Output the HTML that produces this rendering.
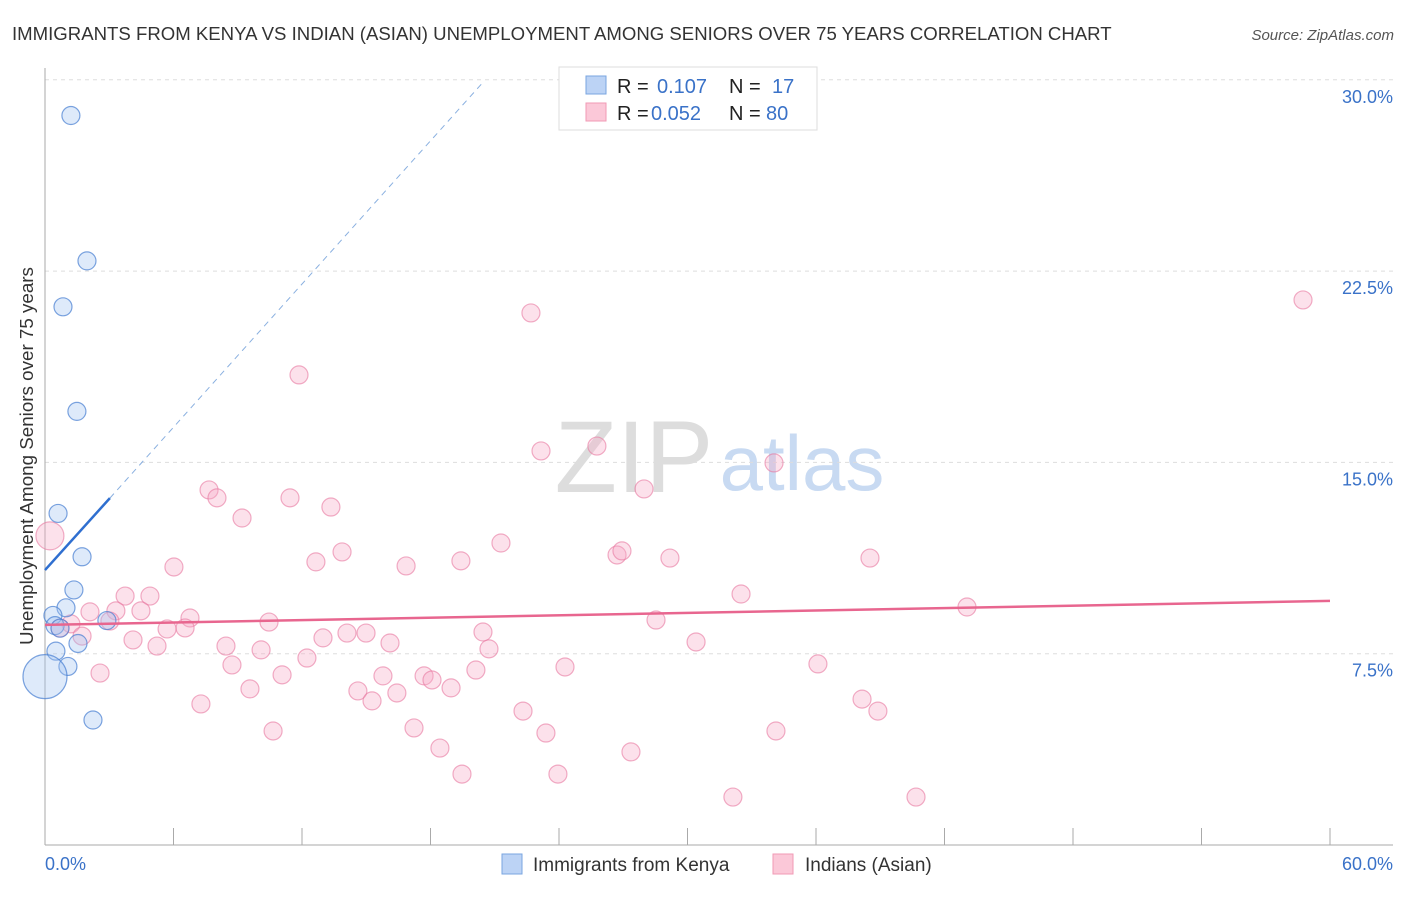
<!DOCTYPE html>
<html><head><meta charset="utf-8"><style>
body{margin:0;background:#fff;font-family:"Liberation Sans",sans-serif}
svg text{font-family:"Liberation Sans",sans-serif}
</style></head><body>
<svg width="1406" height="892" viewBox="0 0 1406 892">
<text x="12" y="40" font-size="18.6" fill="#333">IMMIGRANTS FROM KENYA VS INDIAN (ASIAN) UNEMPLOYMENT AMONG SENIORS OVER 75 YEARS CORRELATION CHART</text>
<text x="1394" y="40" font-size="15" fill="#555" font-style="italic" text-anchor="end">Source: ZipAtlas.com</text>
<g>
<text x="634" y="492" font-size="102" fill="#ddd" font-family="Liberation Serif" text-anchor="middle">ZIP</text>
<text x="802" y="490" font-size="78" fill="#c8daf2" text-anchor="middle">atlas</text>
</g>
<g id="grid"></g>
<g id="axes"></g>
<g id="marks"></g>
<text transform="translate(33,456) rotate(-90)" font-size="18.8" fill="#333" text-anchor="middle">Unemployment Among Seniors over 75 years</text>
<g>
<rect x="559" y="67" width="258" height="63" fill="#fff" stroke="#ddd"/>
<rect x="586" y="76" width="20" height="18" fill="#bcd3f5" stroke="#7aa6e0"/>
<rect x="586" y="103" width="20" height="18" fill="#fbc8d8" stroke="#f09ab5"/>
<text x="617" y="93" font-size="20" fill="#222">R = </text><text x="657" y="93" font-size="20" fill="#3a72c8">0.107</text>
<text x="729" y="93" font-size="20" fill="#222">N = </text><text x="772" y="93" font-size="20" fill="#3a72c8">17</text>
<text x="617" y="120" font-size="20" fill="#222">R = </text><text x="651" y="120" font-size="20" fill="#3a72c8">0.052</text>
<text x="729" y="120" font-size="20" fill="#222">N = </text><text x="766" y="120" font-size="20" fill="#3a72c8">80</text>
</g>
<g>
<rect x="502" y="854" width="20" height="20" fill="#bcd3f5" stroke="#7aa6e0"/>
<text x="533" y="871" font-size="19" fill="#333">Immigrants from Kenya</text>
<rect x="773" y="854" width="20" height="20" fill="#fbc8d8" stroke="#f09ab5"/>
<text x="805" y="871" font-size="19" fill="#333">Indians (Asian)</text>
</g>
</svg>
<script>
const xTicks=[0,6,12,18,24,30,36,42,48,54,60];
const yTicks=[7.5,15,22.5,30];
const yTickLabels=["7.5%","15.0%","22.5%","30.0%"];
const kenyaX=[1.21,1.96,0.84,1.49,0.61,1.73,1.35,0.98,0.37,0.47,0.70,2.89,1.54,0.51,1.07,0.0,2.24];
const kenyaY=[28.6,22.9,21.1,17.0,13.0,11.3,10.0,9.3,9.0,8.6,8.5,8.8,7.9,7.6,7.0,6.6,4.9];
const kenyaR=[9,9,9,9,9,9,9,9,9,9,9,9,9,9,9,22,9];
const indX=[0.23,58.74,22.69,11.86,23.16,25.77,34.04,7.66,27.97,8.03,11.44,13.35,9.20,21.29,13.87,26.71,26.94,29.18,38.52,19.42,12.65,16.86,6.02,3.74,4.90,32.50,2.10,3.31,4.48,6.77,10.46,28.53,43.05,3.03,1.21,0.70,5.70,6.54,1.73,4.11,5.23,8.45,12.98,14.10,14.99,16.11,20.45,30.40,10.09,20.73,12.23,8.73,20.12,24.28,36.09,2.57,11.07,15.78,17.70,18.07,9.57,14.61,18.96,15.27,16.43,7.28,38.15,38.89,22.32,10.65,17.23,34.13,23.39,18.44,27.36,19.47,23.95,32.12,40.67];
const indY=[12.12,21.37,20.86,18.43,15.45,15.64,14.98,13.92,13.96,13.61,13.61,13.25,12.82,11.84,11.49,11.37,11.53,11.25,11.25,11.14,11.10,10.94,10.90,9.76,9.76,9.84,9.14,9.18,9.18,8.90,8.74,8.82,9.33,8.78,8.67,8.51,8.47,8.51,8.19,8.04,7.80,7.80,8.12,8.31,8.31,7.92,8.35,7.96,7.65,7.69,7.33,7.06,6.86,6.98,7.10,6.74,6.67,6.63,6.63,6.47,6.12,6.04,6.16,5.65,5.96,5.53,5.72,5.25,5.25,4.47,4.59,4.47,4.39,3.80,3.65,2.78,2.78,1.88,1.88];
const kenyaTrend=[[0,10.78],[3.03,13.6]];
const kenyaDash=[[3.03,13.6],[20.45,29.9]];
const indTrend=[[0,8.63],[60,9.57]];
const NS="http://www.w3.org/2000/svg";
const sx=v=>45+v/60*1285, sy=v=>845-v/7.5*191.3;
function mk(p,t,a){const e=document.createElementNS(NS,t);for(const k in a)e.setAttribute(k,a[k]);p.appendChild(e);return e;}
const grid=document.getElementById('grid'),axes=document.getElementById('axes'),marks=document.getElementById('marks');
yTicks.forEach((v,i)=>{
 const l=mk(grid,'line',{x1:45,x2:1393,y1:sy(v),y2:sy(v),stroke:'#ddd','stroke-dasharray':'4,4'});
 
 
 const t=mk(axes,'text',{x:1393,y:sy(v)+23,'font-size':18,fill:'#3a72c8','text-anchor':'end'});t.textContent=yTickLabels[i];
 
 
});
const ya=mk(axes,'line',{x1:45,x2:45,y1:68,y2:845,stroke:'#aaa'});


const xa=mk(axes,'line',{x1:45,x2:1393,y1:845,y2:845,stroke:'#aaa'});


xTicks.forEach(v=>{const t=mk(axes,'line',{x1:sx(v),x2:sx(v),y1:828,y2:845,stroke:'#aaa'});
 
 });
const x0=mk(axes,'text',{x:45,y:870,'font-size':18,fill:'#3a72c8'});x0.textContent=xTicks[0].toFixed(1)+'%';


const x1=mk(axes,'text',{x:1393,y:870,'font-size':18,fill:'#3a72c8','text-anchor':'end'});x1.textContent=xTicks[xTicks.length-1].toFixed(1)+'%';


indX.forEach((v,i)=>{const c=mk(marks,'circle',{cx:sx(v),cy:sy(indY[i]),r:i===0?14:9,fill:'rgba(246,170,198,0.35)',stroke:'rgba(232,120,160,0.6)','stroke-width':1.2});
 
 });
kenyaX.forEach((v,i)=>{const c=mk(marks,'circle',{cx:sx(v),cy:sy(kenyaY[i]),r:kenyaR[i],fill:'rgba(160,195,240,0.35)',stroke:'rgba(70,125,210,0.7)','stroke-width':1.2});
 
 });
const kd=mk(marks,'line',{x1:sx(kenyaDash[0][0]),y1:sy(kenyaDash[0][1]),x2:sx(kenyaDash[1][0]),y2:sy(kenyaDash[1][1]),stroke:'#8ab0e0','stroke-dasharray':'6,5','stroke-width':1});


const kt=mk(marks,'line',{x1:sx(kenyaTrend[0][0]),y1:sy(kenyaTrend[0][1]),x2:sx(kenyaTrend[1][0]),y2:sy(kenyaTrend[1][1]),stroke:'#2f6fd0','stroke-width':2.5});


const it=mk(marks,'line',{x1:sx(indTrend[0][0]),y1:sy(indTrend[0][1]),x2:sx(indTrend[1][0]),y2:sy(indTrend[1][1]),stroke:'#e8668f','stroke-width':2.5});


</script>
</body></html>
